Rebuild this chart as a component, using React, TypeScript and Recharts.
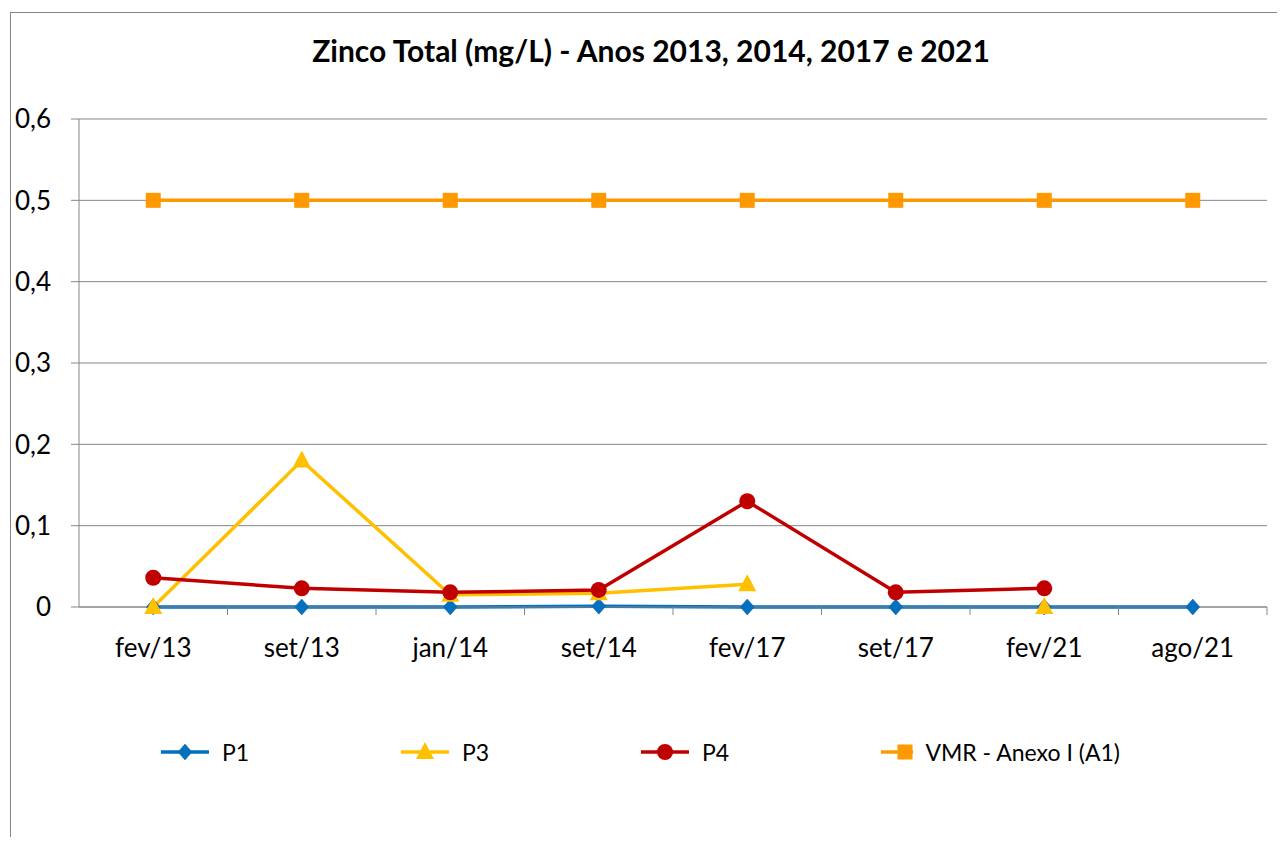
import React from "react";
import {
  LineChart,
  Line,
  XAxis,
  YAxis,
  CartesianGrid,
  Legend,
} from "recharts";

const meses = ["fev/13", "set/13", "jan/14", "set/14", "fev/17", "set/17", "fev/21", "ago/21"];
const p1 = [0, 0, 0, 0.001, 0, 0, 0, 0];
const p3 = [0, 0.18, 0.015, 0.017, 0.028, null, 0, null];
const p4 = [0.036, 0.023, 0.018, 0.021, 0.13, 0.018, 0.023, null];
const vmr = [0.5, 0.5, 0.5, 0.5, 0.5, 0.5, 0.5, 0.5];
const yTicks = [0, 0.1, 0.2, 0.3, 0.4, 0.5, 0.6];

const dados = meses.map((mes, i) => ({
  mes,
  p1: p1[i],
  p3: p3[i],
  p4: p4[i],
  vmr: vmr[i],
}));

const FONTE = "Lato, 'Open Sans', sans-serif";
const CINZA = "#868686";

const CHART_W = 1273;
const CHART_H = 822;
const MARGEM = { top: 106, right: 17, bottom: 188, left: 8 };
const Y_W = 60;
const MEIA_BANDA = (CHART_W - MARGEM.left - MARGEM.right - Y_W) / meses.length / 2;

type Forma = "diamond" | "triangle" | "circle" | "square";

const series: { key: string; nome: string; cor: string; forma: Forma }[] = [
  { key: "p1", nome: "P1", cor: "#0070C0", forma: "diamond" },
  { key: "p3", nome: "P3", cor: "#FFC000", forma: "triangle" },
  { key: "p4", nome: "P4", cor: "#C00000", forma: "circle" },
  { key: "vmr", nome: "VMR - Anexo I (A1)", cor: "#FF9900", forma: "square" },
];

function Marcador({ cx, cy, cor, forma }: { cx: number; cy: number; cor: string; forma: Forma }) {
  if (forma === "diamond")
    return <path d={`M${cx},${cy - 8} L${cx + 7},${cy} L${cx},${cy + 8} L${cx - 7},${cy} Z`} fill={cor} stroke="#2a5c8f" strokeWidth={0.5} />;
  if (forma === "triangle")
    return <path d={`M${cx},${cy - 10} L${cx + 9},${cy + 7} L${cx - 9},${cy + 7} Z`} fill={cor} />;
  if (forma === "circle") return <circle cx={cx} cy={cy} r={8} fill={cor} />;
  return <rect x={cx - 7.5} y={cy - 7.5} width={15} height={15} fill={cor} />;
}

const renderDot = (cor: string, forma: Forma) => (props: any) => {
  const { cx, cy, index, value } = props;
  if (cx == null || cy == null || value == null || Number.isNaN(cy)) return <g key={`v-${index}`} />;
  return (
    <g key={`d-${index}`}>
      <Marcador cx={cx} cy={cy} cor={cor} forma={forma} />
    </g>
  );
};

const TickX = (props: any) => {
  const { x, y, payload } = props;
  return (
    <g>
      <line x1={x + MEIA_BANDA} y1={y} x2={x + MEIA_BANDA} y2={y + 8} stroke={CINZA} />
      <text x={x} y={y + 50} textAnchor="middle" fontSize={26} fontFamily={FONTE} fill="#000">
        {payload.value}
      </text>
    </g>
  );
};

const formatarY = (v: number) => (v === 0 ? "0" : v.toFixed(1).replace(".", ","));

const Legenda = () => (
  <div style={{ display: "flex", fontFamily: FONTE, fontSize: 23 }}>
    {series.map((s) => (
      <div key={s.key} style={{ width: 240, display: "flex", alignItems: "center" }}>
        <svg width={50} height={24} style={{ marginRight: 12 }}>
          <line x1={1} y1={12} x2={49} y2={12} stroke={s.cor} strokeWidth={3.5} />
          <Marcador cx={25} cy={12} cor={s.cor} forma={s.forma} />
        </svg>
        <span style={{ whiteSpace: "nowrap" }}>{s.nome}</span>
      </div>
    ))}
  </div>
);

export default function App() {
  return (
    <div
      style={{
        position: "relative",
        marginLeft: 2,
        marginTop: 4,
        width: CHART_W,
        height: 824,
        borderLeft: `1px solid ${CINZA}`,
        borderTop: `1px solid ${CINZA}`,
        overflow: "hidden",
        background: "#fff",
      }}
    >
      <div
        style={{
          position: "absolute",
          top: 22,
          left: 0,
          width: 1280,
          textAlign: "center",
          fontFamily: FONTE,
          fontWeight: 700,
          fontSize: 30,
          lineHeight: "30px",
        }}
      >
        Zinco Total (mg/L) - Anos 2013, 2014, 2017 e 2021
      </div>
      <LineChart width={CHART_W} height={CHART_H} data={dados} margin={MARGEM}>
        <CartesianGrid vertical={false} stroke={CINZA} />
        <XAxis
          dataKey="mes"
          height={40}
          stroke={CINZA}
          tickLine={false}
          tickSize={0}
          tickMargin={0}
          interval={0}
          padding={{ left: MEIA_BANDA, right: MEIA_BANDA }}
          tick={<TickX />}
        />
        <YAxis
          width={Y_W}
          domain={[0, 0.6]}
          ticks={yTicks}
          tickFormatter={formatarY}
          stroke={CINZA}
          tickSize={8}
          tickMargin={20}
          tick={{ fontSize: 26, fontFamily: FONTE, fill: "#000" }}
        />
        {series.map((s) => (
          <Line
            key={s.key}
            dataKey={s.key}
            name={s.nome}
            type="linear"
            stroke={s.cor}
            strokeWidth={3.5}
            dot={renderDot(s.cor, s.forma)}
            activeDot={false}
            connectNulls={false}
            isAnimationActive={false}
          />
        ))}
        <Legend
          verticalAlign="middle"
          align="center"
          layout="horizontal"
          wrapperStyle={{ top: 725, left: 149, width: 1000 }}
          content={<Legenda />}
        />
      </LineChart>
    </div>
  );
}
